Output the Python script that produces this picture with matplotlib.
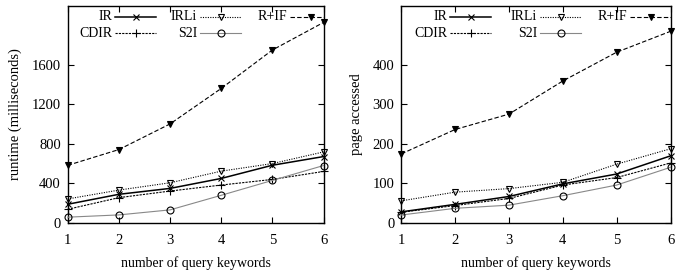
import matplotlib
matplotlib.use('Agg')
import matplotlib.pyplot as plt

# data
keywords = [1, 2, 3, 4, 5, 6]

runtime_ir = [185, 286, 346, 447, 581, 669]
runtime_cdir = [134, 252, 319, 380, 437, 518]
runtime_irli = [239, 329, 403, 521, 598, 716]
runtime_s2i = [54, 77, 128, 276, 427, 578]
runtime_rif = [580, 740, 1000, 1360, 1750, 2030]

pages_ir = [27, 46, 66, 98, 123, 169]
pages_cdir = [26, 43, 61, 95, 114, 151]
pages_irli = [55, 77, 86, 102, 148, 187]
pages_s2i = [19, 36, 44, 68, 95, 140]
pages_rif = [174, 236, 275, 359, 432, 485]

plt.rcParams['font.family'] = 'Liberation Serif'
plt.rcParams['font.size'] = 10

# series styles (gnuplot-like)
styles = {
    'IR': dict(color='black', ls='-', lw=1.1, marker='x', ms=5, mfc='none'),
    'CDIR': dict(color='black', ls=(0, (2, 1)), lw=0.8, marker='+', ms=6, mfc='none'),
    'IRLi': dict(color='black', ls=(0, (1, 1.2)), lw=0.8, marker='v', ms=5, mfc='none'),
    'S2I': dict(color='#888888', ls='-', lw=0.8, marker='o', ms=5, mfc='none', mec='black'),
    'R+IF': dict(color='black', ls=(0, (4, 2)), lw=0.8, marker='v', ms=4.5, mfc='black'),
}


def draw_key(fig, ax, col_dx):
    # gnuplot style key: text right aligned, then a short line sample with a marker
    pos = ax.get_position()
    wpx = pos.width * fig.get_figwidth() * fig.dpi
    hpx = pos.height * fig.get_figheight() * fig.dpi
    entries = [('IR', 0, 0), ('CDIR', 0, 1), ('IRLi', 1, 0), ('S2I', 1, 1), ('R+IF', 2, 0)]
    for name, col, row in entries:
        y = 1 - (11 + 16.5 * row) / hpx
        xm = 1 - col_dx[col] / wpx
        x0 = xm - 20.5 / wpx
        x1 = min(xm + 20.5 / wpx, 1.0)
        st = dict(styles[name])
        ax.text(x0 - 3 / wpx, y, name, transform=ax.transAxes, ha='right', va='center', fontsize=10)
        ax.plot([x0, x1], [y, y], transform=ax.transAxes, color=st['color'], ls=st['ls'], lw=st['lw'], clip_on=False)
        ax.plot([xm], [y], transform=ax.transAxes, ls='none', marker=st['marker'], ms=st['ms'],
                mfc=st['mfc'], mec=st.get('mec', st['color']), mew=0.8, clip_on=False)


def plot_panel(fig, ax, series, ylabel, ymax, yticks, col_dx):
    for name, vals in series:
        st = styles[name]
        ax.plot(keywords, vals, color=st['color'], ls=st['ls'], lw=st['lw'], marker=st['marker'],
                ms=st['ms'], mfc=st['mfc'], mec=st.get('mec', st['color']), mew=0.8, clip_on=False, zorder=3)
    ax.set_xlim(1, 6)
    ax.set_ylim(0, ymax)
    ax.set_xticks(keywords)
    ax.set_yticks(yticks)
    ax.tick_params(direction='in', top=True, right=True, length=4, width=0.8, labelsize=10.5)
    ax.tick_params(axis='x', pad=8)
    ax.tick_params(axis='y', pad=5)
    for sp in ax.spines.values():
        sp.set_linewidth(1.0)
    ax.set_xlabel('number of query keywords', fontsize=10, labelpad=7)
    ax.set_ylabel(ylabel, fontsize=10.5, labelpad=7)
    draw_key(fig, ax, col_dx)


fig = plt.figure(figsize=(6.86, 2.78), dpi=100)
ax1 = fig.add_axes([67.7 / 686, (278 - 222.5) / 278, (323.5 - 67.7) / 686, (222.5 - 5.7) / 278])
ax2 = fig.add_axes([401.3 / 686, (278 - 222.5) / 278, (670.5 - 401.3) / 686, (222.5 - 5.7) / 278])

plot_panel(fig, ax1, [('IR', runtime_ir), ('CDIR', runtime_cdir), ('IRLi', runtime_irli),
                      ('S2I', runtime_s2i), ('R+IF', runtime_rif)],
           'runtime (milliseconds)', 2200, [0, 400, 800, 1200, 1600], [188, 103, 13])
plot_panel(fig, ax2, [('IR', pages_ir), ('CDIR', pages_cdir), ('IRLi', pages_irli),
                      ('S2I', pages_s2i), ('R+IF', pages_rif)],
           'page accessed', 550, [0, 100, 200, 300, 400], [200, 110, 20])

fig.savefig('out.png', dpi=100)
